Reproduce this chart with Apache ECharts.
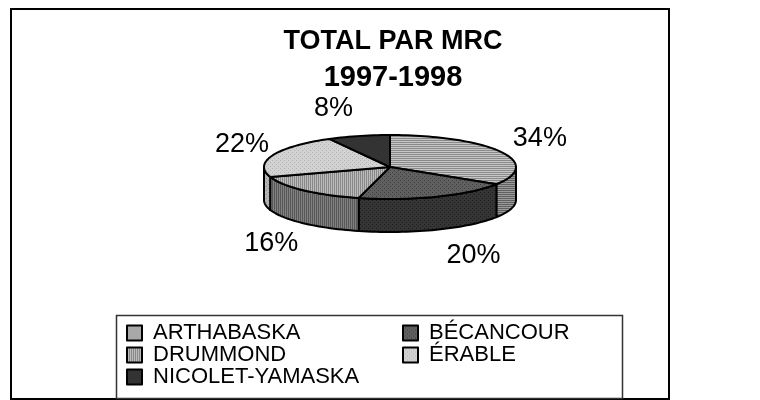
<!DOCTYPE html>
<html>
<head>
<meta charset="utf-8">
<script src="https://cdn.jsdelivr.net/npm/echarts@6/dist/echarts.min.js"></script>
<style>
    html, body {margin: 0; padding: 0; background: #fff;}
    #chart {width: 760px; height: 400px;}
</style>
</head>
<body>
<div id="chart"></div>
<script>
// données du graphique
let names = ['ARTHABASKA', 'BÉCANCOUR', 'DRUMMOND', 'ÉRABLE', 'NICOLET-YAMASKA'];
let values = [34, 20, 16, 22, 8];
let legendCol1 = ['ARTHABASKA', 'DRUMMOND', 'NICOLET-YAMASKA'];
let legendCol2 = ['BÉCANCOUR', 'ÉRABLE'];

let fontFamily = "'Liberation Sans', Arial, sans-serif";

/**
 * petit motif de hachures façon Excel
 */
function makePattern(bg, fg, kind) {
    let c = document.createElement('canvas');
    c.width = 4;
    c.height = 4;
    let ctx = c.getContext('2d');
    ctx.fillStyle = bg;
    ctx.fillRect(0, 0, 4, 4);
    ctx.fillStyle = fg;
    if (kind === 'h') {
        ctx.fillRect(0, 0, 4, 1);
        ctx.fillRect(0, 2, 4, 1);
    } else if (kind === 'v') {
        ctx.fillRect(0, 0, 1, 4);
        ctx.fillRect(2, 0, 1, 4);
    } else if (kind === 'dot') {
        ctx.fillRect(0, 0, 1, 1);
        ctx.fillRect(2, 2, 1, 1);
    }
    return {image: c, repeat: 'repeat'};
}

// dessus des parts / côtés (plus sombres)
let topFills = [
    makePattern('#c6c6c6', '#8a8a8a', 'h'),
    makePattern('#606060', '#3c3c3c', 'dot'),
    makePattern('#bcbcbc', '#888888', 'v'),
    makePattern('#d2d2d2', '#b0b0b0', 'dot'),
    '#333333'
];
let sideFills = [
    makePattern('#9a9a9a', '#606060', 'h'),
    makePattern('#353535', '#1c1c1c', 'dot'),
    makePattern('#808080', '#585858', 'v'),
    makePattern('#b4b4b4', '#909090', 'dot'),
    '#262626'
];

// géométrie du camembert 3D (ellipse + épaisseur)
let pie = {cx: 390, cy: 167, rx: 126, ry: 32, depth: 33};
let total = values.reduce((a, b) => a + b, 0);

function rimPoint(a, dy) {
    return [pie.cx + pie.rx * Math.sin(a), pie.cy - pie.ry * Math.cos(a) + dy];
}
function arcPoints(a0, a1, dy) {
    let n = Math.max(2, Math.ceil(Math.abs(a1 - a0) / (Math.PI / 90)));
    let pts = [];
    for (let k = 0; k <= n; k++) {
        pts.push(rimPoint(a0 + (a1 - a0) * k / n, dy));
    }
    return pts;
}

/**
 * une part : côté visible + dessus + étiquette
 */
function renderSlice(params, api) {
    let i = params.dataIndex;
    let v = api.value(0);
    let start = 0;
    for (let k = 0; k < i; k++) start += values[k];
    let a0 = start / total * Math.PI * 2;
    let a1 = (start + v) / total * Math.PI * 2;
    let children = [];

    // côté avant seulement (entre 90° et 270°)
    let w0 = Math.max(a0, Math.PI / 2);
    let w1 = Math.min(a1, Math.PI * 1.5);
    if (w1 > w0) {
        children.push({
            type: 'polygon',
            shape: {points: arcPoints(w0, w1, 0).concat(arcPoints(w1, w0, pie.depth))},
            style: {fill: sideFills[i], stroke: '#000', lineWidth: 2, lineJoin: 'round'}
        });
    }
    children.push({
        type: 'polygon',
        shape: {points: [[pie.cx, pie.cy]].concat(arcPoints(a0, a1, 0))},
        style: {fill: topFills[i], stroke: '#000', lineWidth: 2, lineJoin: 'round'}
    });

    // étiquette à l'extérieur, sous l'épaisseur pour les parts avant
    let mid = (a0 + a1) / 2;
    let s = Math.sin(mid);
    let c = -Math.cos(mid);
    let lx = pie.cx + 4 + 160 * Math.sign(s) * Math.pow(Math.abs(s), 0.7);
    let ly = pie.cy + 60 * c + (c > 0 ? pie.depth * Math.min(1, c * 3) : 0);
    children.push({
        type: 'text',
        x: lx,
        y: ly,
        style: {
            text: v + '%',
            fill: '#000',
            font: '27px ' + fontFamily,
            align: 'center',
            verticalAlign: 'middle'
        }
    });
    return {type: 'group', children: children};
}

let legendCommon = {
    orient: 'vertical',
    top: 322,
    padding: 0,
    itemGap: 0,
    itemWidth: 15,
    itemHeight: 15,
    icon: 'rect',
    selectedMode: false,
    itemStyle: {borderColor: '#000', borderWidth: 2},
    textStyle: {
        fontFamily: fontFamily,
        fontSize: 22,
        lineHeight: 22,
        color: '#000',
        padding: [0, 0, 0, 6]
    }
};

let titleStyle = {
    fontFamily: fontFamily,
    fontWeight: 'bold',
    lineHeight: 36,
    color: '#000'
};

let option = {
    backgroundColor: '#fff',
    animation: false,
    title: [
        {
            text: 'TOTAL PAR MRC',
            left: 393,
            top: 24,
            padding: 0,
            textAlign: 'center',
            textStyle: Object.assign({fontSize: 27}, titleStyle)
        },
        {
            text: '1997-1998',
            left: 393,
            top: 60,
            padding: 0,
            textAlign: 'center',
            textStyle: Object.assign({fontSize: 29}, titleStyle)
        }
    ],
    legend: [
        Object.assign({}, legendCommon, {left: 126, data: legendCol1}),
        Object.assign({}, legendCommon, {left: 402, data: legendCol2})
    ],
    graphic: [
        {
            type: 'rect',
            silent: true,
            shape: {x: 11, y: 9, width: 658, height: 390},
            style: {fill: 'none', stroke: '#000', lineWidth: 2}
        },
        {
            type: 'rect',
            silent: true,
            shape: {x: 116.5, y: 315.5, width: 506, height: 83},
            style: {fill: 'none', stroke: '#333', lineWidth: 1.5}
        }
    ],
    series: [
        {
            // parts visibles
            type: 'custom',
            coordinateSystem: 'none',
            silent: true,
            renderItem: renderSlice,
            data: values
        },
        {
            // sert uniquement à alimenter la légende
            type: 'pie',
            radius: [0, 0],
            silent: true,
            label: {show: false},
            labelLine: {show: false},
            data: names.map((n, i) => ({name: n, value: values[i], itemStyle: {color: topFills[i]}}))
        }
    ]
};

let myChart = echarts.init(document.getElementById('chart'));
myChart.setOption(option);
</script>
</body>
</html>
